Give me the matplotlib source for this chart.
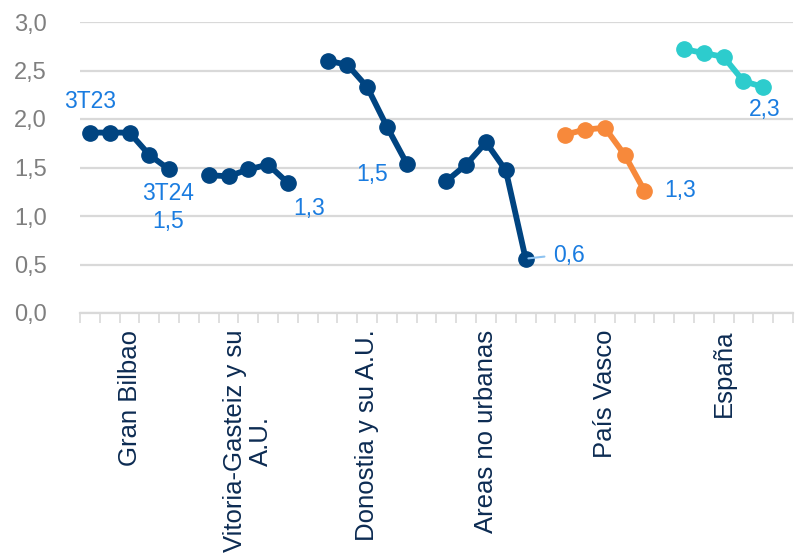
import matplotlib
matplotlib.use("Agg")
from matplotlib import pyplot as plt
import numpy as np

plt.rcParams['font.family'] = ['Liberation Sans', 'DejaVu Sans']

# data
Zonas = ["Gran Bilbao", "Vitoria-Gasteiz y su\nA.U.", "Donostia y su A.U.",
         "Areas no urbanas", "País Vasco", "España"]
Trimestres = ["3T23", "4T23", "1T24", "2T24", "3T24"]

Gran_Bilbao = [1.86, 1.86, 1.86, 1.63, 1.48]
Vitoria = [1.42, 1.41, 1.48, 1.53, 1.34]
Donostia = [2.60, 2.56, 2.33, 1.92, 1.54]
No_urbanas = [1.36, 1.53, 1.76, 1.47, 0.56]
Pais_Vasco = [1.84, 1.89, 1.91, 1.63, 1.26]
Espana = [2.72, 2.68, 2.64, 2.39, 2.33]

Series = [Gran_Bilbao, Vitoria, Donostia, No_urbanas, Pais_Vasco, Espana]
Colores = ['#004481', '#004481', '#004481', '#004481', '#f7893b', '#2dcccd']

lbl_col = '#1a7ce0'
grid_col = '#d9d9d9'
n_per = len(Trimestres) + 1  # 5 puntos + hueco

def coma(v):
    return "{:.1f}".format(v).replace('.', ',')

fig = plt.figure(figsize=(8.02, 5.6), dpi=100)
ax = fig.add_axes([80/802, 1-313/560, 713/802, 291/560])

for g in range(len(Series)):
    x = g*n_per + np.arange(len(Trimestres)) + 0.5
    ax.plot(x, Series[g], '-o', color=Colores[g], lw=4.2, markersize=11,
            clip_on=False, zorder=3)

# etiquetas de datos (offset en pixeles)
def etiqueta(g, i, txt, dx, dy, **kw):
    x = g*n_per + i + 0.5
    ax.annotate(txt, (x, Series[g][i]), xytext=(dx, dy), textcoords='offset pixels',
                ha='center', va='center', color=lbl_col, fontsize=16.5,
                linespacing=1.3, **kw)

etiqueta(0, 0, Trimestres[0], 0, 31)
etiqueta(0, 4, Trimestres[-1] + "\n" + coma(Gran_Bilbao[-1]), -1, -38)
etiqueta(1, 4, coma(Vitoria[-1]), 21, -25)
etiqueta(2, 4, coma(Donostia[-1]), -35, -11)
etiqueta(3, 4, coma(No_urbanas[-1]), 43, 3,
         arrowprops=dict(arrowstyle='-', color='#8ec3f0', lw=1.5, shrinkA=4, shrinkB=2,
                         relpos=(0, 0.5)))
etiqueta(4, 4, coma(Pais_Vasco[-1]), 36, 0)
etiqueta(5, 4, coma(Espana[-1]), 1, -23)

# ejes
yt = np.arange(0, 3.01, 0.5)
ax.set_xlim(0, len(Series)*n_per)
ax.set_ylim(0, 3)
ax.set_yticks(yt)
ax.set_yticklabels([coma(v) for v in yt], fontsize=17, color='#7f7f7f')
ax.tick_params(axis='y', length=0, pad=24)
ax.yaxis.grid(True, color=grid_col, lw=1.6)
ax.set_axisbelow(True)

ax.set_xticks(np.arange(len(Series))*n_per + 2.5)
ax.set_xticklabels(Zonas, rotation=90, fontsize=18.5, color='#0c2b52',
                   multialignment='center', linespacing=1.1)
ax.set_xticks(np.arange(0, len(Series)*n_per + 1), minor=True)
ax.tick_params(axis='x', which='major', length=0, pad=12)
ax.tick_params(axis='x', which='minor', length=7, width=1.2, color=grid_col)

for s in ['top', 'right', 'left']:
    ax.spines[s].set_visible(False)
ax.spines['bottom'].set_color(grid_col)
ax.spines['bottom'].set_linewidth(1.6)

plt.savefig('out.png', dpi=100)
